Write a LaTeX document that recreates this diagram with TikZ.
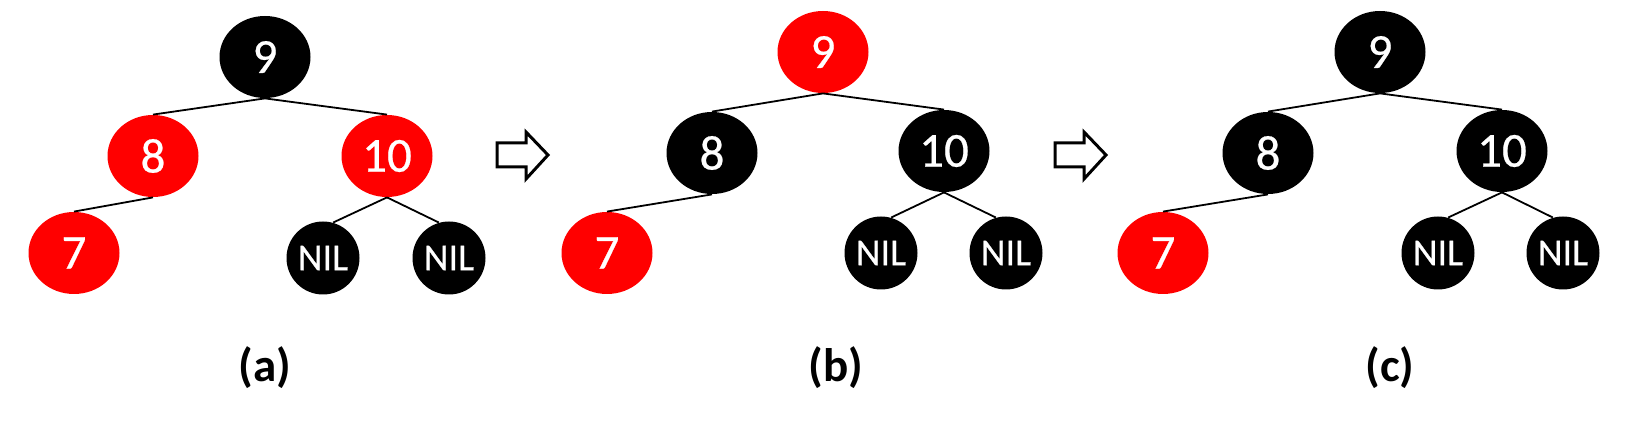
\documentclass[tikz,border=0pt]{standalone}
\usepackage{fontspec}
\setmainfont{Carlito}
\newfontfamily\rbfont[FakeBold=0.5]{Carlito}
\usetikzlibrary{shapes.geometric}
\begin{document}
\begin{tikzpicture}[x=0.5pt,y=-0.5pt,
 rbnode/.style={ellipse, minimum width=45.5pt, minimum height=41pt, inner sep=0pt, text=white, font=\rbfont\fontsize{24.5}{29}\selectfont},
 rednode/.style={rbnode, fill=red},
 blacknode/.style={rbnode, fill=black},
 nilnode/.style={circle, fill=black, minimum size=36.5pt, inner sep=0pt, text=white, font=\rbfont\fontsize{19}{23}\selectfont},
 edge/.style={line width=0.9pt},
 caption/.style={font=\fontsize{23.5}{28}\selectfont\bfseries},
 bigarrow/.style={draw, line width=1.5pt, line join=miter}]
\useasboundingbox (0,0) rectangle (1630,426);

% panel (a)
\node[blacknode] (a9) at (265,57) {9};
\node[rednode] (a8) at (153,156) {8};
\node[rednode] (a10) at (387,156) {10};
\node[rednode] (a7) at (74,253) {7};
\node[nilnode] (anil1) at (323,258) {NIL};
\node[nilnode] (anil2) at (449,258) {NIL};
\draw[edge] (a9.south) -- (a8.north);
\draw[edge] (a9.south) -- (a10.north);
\draw[edge] (a8.south) -- (a7.north);
\draw[edge] (a10.south) -- (anil1.74);
\draw[edge] (a10.south) -- (anil2.106);
\node[caption] (la) at (265,368) {(a)};

% arrow a -> b
\draw[bigarrow] (497,143) -- (526,143) -- (526,132) -- (548,155) -- (526,179) -- (526,167) -- (497,167) -- cycle;

% panel (b)
\node[rednode] (b9) at (823,52) {9};
\node[blacknode] (b8) at (712,153) {8};
\node[blacknode] (b10) at (944,151) {10};
\node[rednode] (b7) at (607,253) {7};
\node[nilnode] (bnil1) at (881,253) {NIL};
\node[nilnode] (bnil2) at (1006,253) {NIL};
\draw[edge] (b9.south) -- (b8.north);
\draw[edge] (b9.south) -- (b10.north);
\draw[edge] (b8.south) -- (b7.north);
\draw[edge] (b10.south) -- (bnil1.74);
\draw[edge] (b10.south) -- (bnil2.106);
\node[caption] (lb) at (836,368) {(b)};

% arrow b -> c
\draw[bigarrow] (1055,143) -- (1084,143) -- (1084,132) -- (1106,155) -- (1084,179) -- (1084,167) -- (1055,167) -- cycle;

% panel (c)
\node[blacknode] (c9) at (1380,52) {9};
\node[blacknode] (c8) at (1268,153) {8};
\node[blacknode] (c10) at (1502,151) {10};
\node[rednode] (c7) at (1163,253) {7};
\node[nilnode] (cnil1) at (1438,253) {NIL};
\node[nilnode] (cnil2) at (1563,253) {NIL};
\draw[edge] (c9.south) -- (c8.north);
\draw[edge] (c9.south) -- (c10.north);
\draw[edge] (c8.south) -- (c7.north);
\draw[edge] (c10.south) -- (cnil1.74);
\draw[edge] (c10.south) -- (cnil2.106);
\node[caption] (lc) at (1390,368) {(c)};
\end{tikzpicture}
\end{document}
